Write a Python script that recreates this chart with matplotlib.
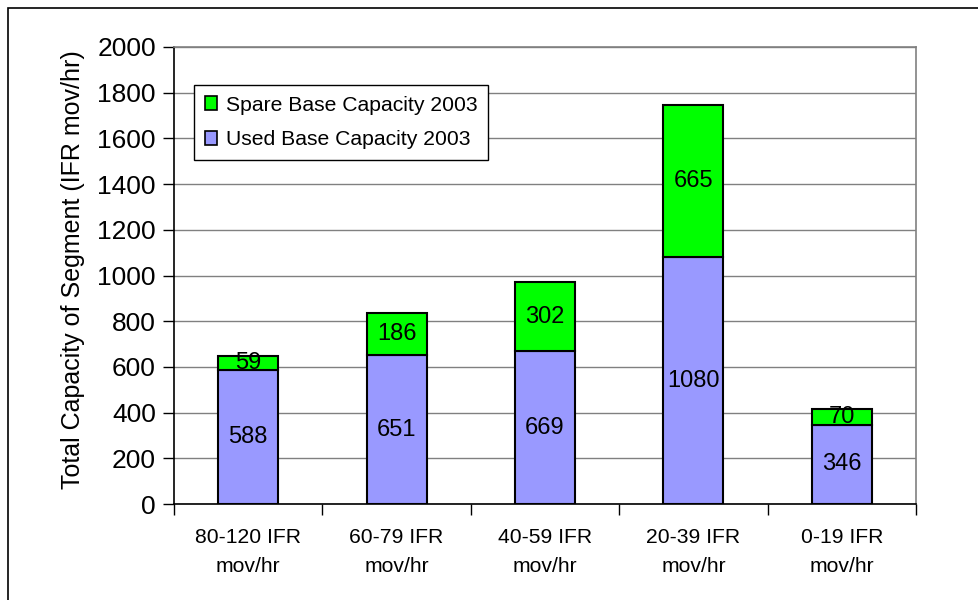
import matplotlib
matplotlib.use("Agg")
import matplotlib.pyplot as plt
import numpy as np
from matplotlib.patches import Rectangle

categories = ["80-120 IFR\nmov/hr", "60-79 IFR\nmov/hr", "40-59 IFR\nmov/hr",
              "20-39 IFR\nmov/hr", "0-19 IFR\nmov/hr"]
used = [588, 651, 669, 1080, 346]
spare = [59, 186, 302, 665, 70]
yticks = [0, 200, 400, 600, 800, 1000, 1200, 1400, 1600, 1800, 2000]

plt.rcParams['font.family'] = ['Liberation Sans', 'DejaVu Sans']

fig = plt.figure(figsize=(9.79, 6.0), dpi=100)
fig.patches.append(Rectangle((8/979, -0.01), 1.0, 1 - 8/600 + 0.01, transform=fig.transFigure,
                             fill=False, edgecolor='black', linewidth=1.2))
ax = fig.add_axes([174/979, 1 - 504/600, (916 - 174)/979, (504 - 47)/600])

x = np.arange(len(categories))
w = 0.405
b1 = ax.bar(x, used, w, color='#9999FF', edgecolor='black', linewidth=1.5,
            label='Used Base Capacity 2003', zorder=3)
b2 = ax.bar(x, spare, w, bottom=used, color='#00FF00', edgecolor='black', linewidth=1.5,
            label='Spare Base Capacity 2003', zorder=3)

for i in range(len(categories)):
    ax.text(x[i], used[i] / 2, str(used[i]), ha='center', va='center', fontsize=17, zorder=4)
    ax.text(x[i], used[i] + spare[i] / 2, str(spare[i]), ha='center', va='center', fontsize=17, zorder=4)

ax.set_xlim(-0.5, len(categories) - 0.5)
ax.set_ylim(0, 2000)
ax.set_yticks(yticks)
ax.set_yticklabels([str(t) for t in yticks], fontsize=19)
ax.yaxis.grid(True, color='#808080', linewidth=1.0, zorder=0)
ax.set_axisbelow(True)

ax.set_xticks(x)
ax.set_xticklabels(categories, fontsize=15.2, linespacing=1.7)
ax.set_xticks(np.arange(-0.5, len(categories), 1.0), minor=True)
ax.tick_params(axis='x', which='major', length=0, pad=17)
ax.tick_params(axis='x', which='minor', length=8, width=1.0, direction='out')
ax.tick_params(axis='y', length=8, width=1.0, direction='out', pad=5)

ax.set_ylabel('Total Capacity of Segment (IFR mov/hr)', fontsize=18)
ax.yaxis.set_label_coords(-(174 - 85) / 742, 0.512)

for s in ['top', 'right']:
    ax.spines[s].set_color('#808080')
    ax.spines[s].set_linewidth(1.2)
for s in ['left', 'bottom']:
    ax.spines[s].set_color('black')
    ax.spines[s].set_linewidth(1.2)

handles = [b2, b1]
leg = ax.legend(handles, [h.get_label() for h in handles], loc='upper left',
                bbox_to_anchor=((194 - 174) / 742, (504 - 85) / 457),
                fontsize=15.2, frameon=True, fancybox=False, shadow=False,
                edgecolor='black', framealpha=1, borderpad=0.5, labelspacing=0.75,
                handlelength=0.6, handleheight=0.6, handletextpad=0.4, borderaxespad=0)
leg.get_frame().set_linewidth(1.0)
for p in leg.get_patches():
    p.set_linewidth(1.2)

fig.savefig('out.png', dpi=100)
